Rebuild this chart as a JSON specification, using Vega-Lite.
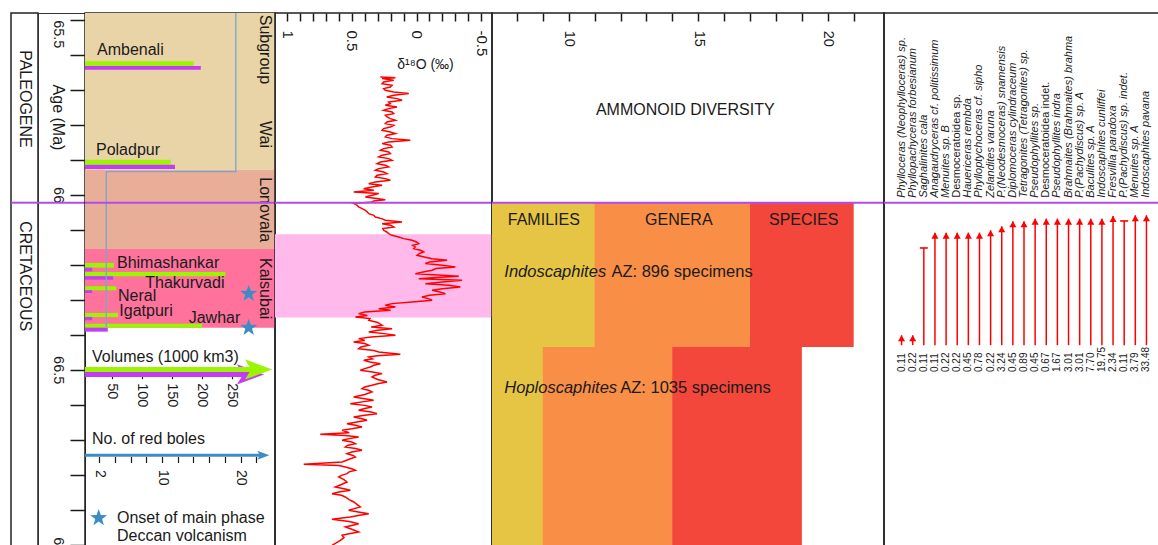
{
"$schema":"https://vega.github.io/schema/vega-lite/v6.json",
"background":"white",
"padding":{"left":9,"top":11,"right":0,"bottom":0},
"spacing":0,
"bounds":"flush",
"config":{"font":"Liberation Sans","view":{"stroke":"#222","strokeWidth":1.5},
 "axis":{"labelColor":"#1a1a1a","tickColor":"#1a1a1a","titleColor":"#1a1a1a","labelFont":"Liberation Sans","titleFont":"Liberation Sans","zindex":1,"grid":false,"domain":false,"labelFlush":false,"labelOverlap":false,"labelBound":false}},
"datasets":{
 "kpg":[{"event":"K-Pg boundary","age":66.0229}],
 "species":[
    {"name":"Phylloceras (Neophylloceras) sp.","pct":0.11,"top":66.4017,"cont":true},
    {"name":"Phyllopachyceras forbesianum","pct":0.22,"top":66.4017,"cont":true},
    {"name":"Saghalinites cala","pct":0.11,"top":66.1523,"cont":false},
    {"name":"Anagaudryceras cf. politissimum","pct":0.11,"top":66.1086,"cont":true},
    {"name":"Menuites sp. B","pct":0.22,"top":66.1086,"cont":true},
    {"name":"Desmoceratoidea sp.","pct":0.22,"top":66.1086,"cont":true},
    {"name":"Hauericeras rembda","pct":0.45,"top":66.1086,"cont":true},
    {"name":"Phylloptychoceras cf. sipho","pct":0.78,"top":66.1086,"cont":true},
    {"name":"Zelandites varuna","pct":0.22,"top":66.1017,"cont":true},
    {"name":"P.(Neodesmoceras) snamensis","pct":3.24,"top":66.0903,"cont":true},
    {"name":"Diplomoceras cylindraceum","pct":0.45,"top":66.0760,"cont":true},
    {"name":"Tetragonites (Tetragonites) sp.","pct":0.89,"top":66.0760,"cont":true},
    {"name":"Pseudophyllites sp.","pct":0.45,"top":66.0686,"cont":true},
    {"name":"Desmoceratoidea indet.","pct":0.67,"top":66.0686,"cont":true},
    {"name":"Pseudophyllites indra","pct":1.67,"top":66.0686,"cont":true},
    {"name":"Brahmaites (Brahmaites) brahma","pct":3.01,"top":66.0686,"cont":true},
    {"name":"P.(Pachydiscus) sp. A","pct":3.01,"top":66.0686,"cont":true},
    {"name":"Baculites sp. A","pct":7.70,"top":66.0686,"cont":true},
    {"name":"Indoscaphites cunliffei","pct":19.75,"top":66.0686,"cont":true},
    {"name":"Fresvillia paradoxa","pct":2.34,"top":66.0609,"cont":true},
    {"name":"P.(Pachydiscus) sp. indet.","pct":0.11,"top":66.0751,"cont":false},
    {"name":"Menuites sp. A","pct":3.79,"top":66.0589,"cont":true},
    {"name":"Indoscaphites pavana","pct":33.48,"top":66.0589,"cont":true}]},
"hconcat":[
{"width":27,"height":534,
 "layer":[
  {"data":{"name":"kpg"},"mark":{"type":"rule","color":"#B24BE8","strokeWidth":2},"encoding":{"y":{"field":"age","type":"quantitative","scale":{"domain":[65.481,67.0066],"reverse":true,"nice":false,"zero":false},"axis":null}}},
  {"data":{"values":[{"period":"PALEOGENE","age":65.7266},{"period":"CRETACEOUS","age":66.2329}]},"mark":{"type":"text","angle":90,"align":"center","baseline":"middle","fontSize":16,"color":"#1a1a1a"},"encoding":{"y":{"field":"age","type":"quantitative","scale":{"domain":[65.481,67.0066],"reverse":true,"nice":false,"zero":false},"axis":null},"text":{"field":"period","type":"nominal"}}}
 ]},
{"width":47,"height":534,"view":{"stroke":"#333","strokeWidth":1},
 "data":{"name":"kpg"},
 "mark":{"type":"rule","color":"#B24BE8","strokeWidth":2},
 "encoding":{"y":{"field":"age","type":"quantitative","scale":{"domain":[65.481,67.0066],"reverse":true,"nice":false,"zero":false},
  "axis":{"orient":"right","values":[65.5,65.6,65.7,65.8,65.9,66,66.1,66.2,66.3,66.4,66.5,66.6,66.7,66.8,66.9,67],"format":".1~f","labelExpr":"round(datum.value*10) % 5 == 0 ? datum.label : ''","tickSize":-15,"tickWidth":1.5,"labelAngle":90,"labelAlign":{"condition":{"test":"datum.value == 65.5","value":"left"},"value":"center"},"labelBaseline":"middle","labelPadding":-13,"labelFontSize":14.5,"title":"Age (Ma)","titleAngle":90,"titleX":-28,"titleY":104,"titleAlign":"center","titleBaseline":"middle","titleFontSize":16,"titleFontWeight":"normal"}}}},
{"width":190,"height":534,
 "resolve":{"scale":{"x":"independent","color":"independent"},"axis":{"x":"independent"}},
 "layer":[
  {"data":{"values":[{"unit":"Wai","top":65.481,"bottom":65.9286},{"unit":"Lonovala","top":65.9286,"bottom":66.1552},{"unit":"Kalsubai","top":66.1552,"bottom":66.38}]},
   "mark":{"type":"rect"},
   "encoding":{"y":{"field":"top","type":"quantitative","scale":{"domain":[65.481,67.0066],"reverse":true,"nice":false,"zero":false},"axis":null},"y2":{"field":"bottom"},
    "color":{"field":"unit","type":"nominal","scale":{"domain":["Wai","Lonovala","Kalsubai"],"range":["#E9D4A7","#E8AE98","#FF729C"]},"legend":null}}},
  {"data":{"values":[
    {"formation":"Ambenali","source":"A","top":65.6189,"bottom":65.6323,"vol":186},
    {"formation":"Ambenali","source":"B","top":65.6323,"bottom":65.6429,"vol":198},
    {"formation":"Poladpur","source":"A","top":65.9000,"bottom":65.9143,"vol":148},
    {"formation":"Poladpur","source":"B","top":65.9143,"bottom":65.9266,"vol":155},
    {"formation":"Bhimashankar","source":"A","top":66.1951,"bottom":66.2086,"vol":53},
    {"formation":"Bhimashankar","source":"B","top":66.2086,"bottom":66.2189,"vol":17},
    {"formation":"Thakurvadi","source":"A","top":66.2209,"bottom":66.2331,"vol":239},
    {"formation":"Thakurvadi","source":"B","top":66.2331,"bottom":66.2429,"vol":52},
    {"formation":"Neral","source":"A","top":66.2617,"bottom":66.2731,"vol":57},
    {"formation":"Neral","source":"B","top":66.2731,"bottom":66.2809,"vol":17},
    {"formation":"Igatpuri","source":"A","top":66.3380,"bottom":66.3494,"vol":60},
    {"formation":"Igatpuri","source":"B","top":66.3494,"bottom":66.3589,"vol":17},
    {"formation":"Jawhar","source":"A","top":66.3686,"bottom":66.3800,"vol":200},
    {"formation":"Jawhar","source":"B","top":66.3800,"bottom":66.3914,"vol":43}]},
   "mark":{"type":"rect","clip":true},
   "encoding":{"x":{"field":"vol","type":"quantitative","scale":{"domain":[5,321.67],"nice":false,"zero":false},"axis":null},"x2":{"datum":0},
    "y":{"field":"top","type":"quantitative","scale":{"domain":[65.481,67.0066],"reverse":true,"nice":false,"zero":false},"axis":null},"y2":{"field":"bottom"},
    "color":{"field":"source","type":"nominal","scale":{"domain":["A","B"],"range":["#9BF500","#C23CF5"]},"legend":null}}},
  {"data":{"values":[{"i":0,"n":19.4,"age":65.45},{"i":1,"n":19.4,"age":65.934},{"i":2,"n":2.9,"age":65.934},{"i":3,"n":2.9,"age":66.378}]},
   "mark":{"type":"line","color":"#78A8C8","strokeWidth":1.3,"clip":true},
   "encoding":{"x":{"field":"n","type":"quantitative","scale":{"domain":[0.19,24.39],"nice":false,"zero":false},"axis":null},
    "y":{"field":"age","type":"quantitative","scale":{"domain":[65.481,67.0066],"reverse":true,"nice":false,"zero":false},"axis":null},
    "order":{"field":"i","type":"quantitative"}}},
  {"data":{"values":[{"source":"B","age":66.5137,"v0":0,"v1":275}]},
   "mark":{"type":"rule","color":"#C23CF5","strokeWidth":5,"clip":true},
   "encoding":{"x":{"field":"v0","type":"quantitative","scale":{"domain":[5,321.67],"nice":false,"zero":false},
     "axis":{"orient":"bottom","offset":-172.3,"values":[50,100,150,200,250],"tickSize":4,"tickWidth":1.2,"labelAngle":90,"labelAlign":"left","labelBaseline":"middle","labelPadding":4,"labelFontSize":14.5,"title":null}},
    "x2":{"field":"v1"},
    "y":{"field":"age","type":"quantitative","scale":{"domain":[65.481,67.0066],"reverse":true,"nice":false,"zero":false},"axis":null}}},
  {"data":{"values":[{"source":"B","age":66.5137,"head":280.8}]},
   "mark":{"type":"point","shape":"M -1 -0.75 L 1 0 L -1 0.75 L -0.55 0 Z","filled":true,"size":729,"color":"#C23CF5","opacity":1},
   "encoding":{"x":{"field":"head","type":"quantitative","scale":{"domain":[5,321.67],"nice":false,"zero":false},"axis":null},
    "y":{"field":"age","type":"quantitative","scale":{"domain":[65.481,67.0066],"reverse":true,"nice":false,"zero":false},"axis":null}}},
  {"data":{"values":[{"source":"A","age":66.4994,"v0":0,"v1":285}]},
   "mark":{"type":"rule","color":"#9BF500","strokeWidth":5,"clip":true},
   "encoding":{"x":{"field":"v0","type":"quantitative","scale":{"domain":[5,321.67],"nice":false,"zero":false},"axis":null},
    "x2":{"field":"v1"},
    "y":{"field":"age","type":"quantitative","scale":{"domain":[65.481,67.0066],"reverse":true,"nice":false,"zero":false},"axis":null}}},
  {"data":{"values":[{"source":"A","age":66.4994,"head":294.2}]},
   "mark":{"type":"point","shape":"M -1 -0.75 L 1 0 L -1 0.75 L -0.55 0 Z","filled":true,"size":729,"color":"#9BF500","opacity":1},
   "encoding":{"x":{"field":"head","type":"quantitative","scale":{"domain":[5,321.67],"nice":false,"zero":false},"axis":null},
    "y":{"field":"age","type":"quantitative","scale":{"domain":[65.481,67.0066],"reverse":true,"nice":false,"zero":false},"axis":null}}},
  {"data":{"values":[{"age":66.7446,"n0":0,"n1":22.5}]},
   "mark":{"type":"rule","color":"#3C8DC6","strokeWidth":3,"clip":true},
   "encoding":{"x":{"field":"n0","type":"quantitative","scale":{"domain":[0.19,24.39],"nice":false,"zero":false},
     "axis":{"orient":"bottom","offset":-90.5,"values":[2,4,6,8,10,12,14,16,18,20,22],"labelExpr":"indexof([2,10,20], datum.value) >= 0 ? datum.label : ''","tickSize":6,"tickWidth":1.2,"labelAngle":90,"labelAlign":"left","labelBaseline":"middle","labelPadding":7,"labelFontSize":14,"title":null}},
    "x2":{"field":"n1"},
    "y":{"field":"age","type":"quantitative","scale":{"domain":[65.481,67.0066],"reverse":true,"nice":false,"zero":false},"axis":null}}},
  {"data":{"values":[{"age":66.7446,"head":22.9}]},
   "mark":{"type":"point","shape":"M -1 -0.75 L 1 0 L -1 0.75 L -0.55 0 Z","filled":true,"size":144,"color":"#3C8DC6","opacity":1},
   "encoding":{"x":{"field":"head","type":"quantitative","scale":{"domain":[0.19,24.39],"nice":false,"zero":false},"axis":null},
    "y":{"field":"age","type":"quantitative","scale":{"domain":[65.481,67.0066],"reverse":true,"nice":false,"zero":false},"axis":null}}},
  {"data":{"values":[
    {"text":"Ambenali","vx":25,"age":65.6020},
    {"text":"Poladpur","vx":23.3,"age":65.8877},
    {"text":"Bhimashankar","vx":58.3,"age":66.2106},
    {"text":"Thakurvadi","vx":105.5,"age":66.2677},
    {"text":"Neral","vx":60,"age":66.3037},
    {"text":"Igatpuri","vx":62.2,"age":66.3466},
    {"text":"Jawhar","vx":177.8,"age":66.3657},
    {"text":"Volumes (1000 km3)","vx":16.7,"age":66.478},
    {"text":"No. of red boles","vx":16.7,"age":66.7134},
    {"text":"Onset of main phase","vx":58.3,"age":66.9371},
    {"text":"Deccan volcanism","vx":58.3,"age":66.9894}]},
   "mark":{"type":"text","align":"left","baseline":"alphabetic","fontSize":16,"color":"#1a1a1a"},
   "encoding":{"x":{"field":"vx","type":"quantitative","scale":{"domain":[5,321.67],"nice":false,"zero":false},"axis":null},
    "y":{"field":"age","type":"quantitative","scale":{"domain":[65.481,67.0066],"reverse":true,"nice":false,"zero":false},"axis":null},
    "text":{"field":"text","type":"nominal"}}},
  {"data":{"values":[{"text":"Subgroup","vx":305,"age":65.5851},{"text":"Wai","vx":305,"age":65.828},{"text":"Lonovala","vx":305,"age":66.0432},{"text":"Kalsubai","vx":305,"age":66.2686}]},
   "mark":{"type":"text","angle":90,"align":"center","baseline":"middle","fontSize":16,"color":"#1a1a1a"},
   "encoding":{"x":{"field":"vx","type":"quantitative","scale":{"domain":[5,321.67],"nice":false,"zero":false},"axis":null},
    "y":{"field":"age","type":"quantitative","scale":{"domain":[65.481,67.0066],"reverse":true,"nice":false,"zero":false},"axis":null},
    "text":{"field":"text","type":"nominal"}}},
  {"data":{"values":[{"vx":277.8,"age":66.2829},{"vx":277.8,"age":66.38},{"vx":27.8,"age":66.9237}]},
   "mark":{"type":"point","shape":"M 0 -1 L 0.235 -0.324 L 0.951 -0.309 L 0.38 0.124 L 0.588 0.809 L 0 0.4 L -0.588 0.809 L -0.38 0.124 L -0.951 -0.309 L -0.235 -0.324 Z","filled":true,"size":320,"color":"#3C8DC6","opacity":1},
   "encoding":{"x":{"field":"vx","type":"quantitative","scale":{"domain":[5,321.67],"nice":false,"zero":false},"axis":null},
    "y":{"field":"age","type":"quantitative","scale":{"domain":[65.481,67.0066],"reverse":true,"nice":false,"zero":false},"axis":null}}},
  {"data":{"name":"kpg"},"mark":{"type":"rule","color":"#B24BE8","strokeWidth":2},"encoding":{"y":{"field":"age","type":"quantitative","scale":{"domain":[65.481,67.0066],"reverse":true,"nice":false,"zero":false},"axis":null}}}
 ]},
{"width":217,"height":534,
 "layer":[
  {"data":{"values":[{"top":66.1131,"bottom":66.3509}]},"mark":{"type":"rect","color":"#FFBAEB"},
   "encoding":{"y":{"field":"top","type":"quantitative","scale":{"domain":[65.481,67.0066],"reverse":true,"nice":false,"zero":false},"axis":null},"y2":{"field":"bottom"}}},
  {"data":{"values":[
{"age":65.6637,"d":0.279},{"age":65.6660,"d":0.163},{"age":65.6685,"d":0.266},{"age":65.6732,"d":0.176},{"age":65.6780,"d":0.254},{"age":65.6828,"d":0.266},{"age":65.6875,"d":0.189},{"age":65.6923,"d":0.202},{"age":65.6970,"d":0.254},{"age":65.7018,"d":0.241},{"age":65.7066,"d":0.176},{"age":65.7113,"d":0.060},{"age":65.7161,"d":0.176},{"age":65.7208,"d":0.230},{"age":65.7256,"d":0.150},{"age":65.7304,"d":0.112},{"age":65.7351,"d":0.215},{"age":65.7399,"d":0.202},{"age":65.7447,"d":0.241},{"age":65.7494,"d":0.151},{"age":65.7542,"d":0.215},{"age":65.7590,"d":0.254},{"age":65.7637,"d":0.189},{"age":65.7685,"d":0.176},{"age":65.7733,"d":0.241},{"age":65.7780,"d":0.228},{"age":65.7828,"d":0.202},{"age":65.7875,"d":0.163},{"age":65.7923,"d":0.228},{"age":65.7971,"d":0.241},{"age":65.8018,"d":0.176},{"age":65.8066,"d":0.202},{"age":65.8113,"d":0.254},{"age":65.8161,"d":0.266},{"age":65.8209,"d":0.202},{"age":65.8256,"d":0.163},{"age":65.8304,"d":0.228},{"age":65.8351,"d":0.241},{"age":65.8399,"d":0.189},{"age":65.8447,"d":0.048},{"age":65.8494,"d":0.215},{"age":65.8542,"d":0.266},{"age":65.8590,"d":0.202},{"age":65.8637,"d":0.189},{"age":65.8685,"d":0.254},{"age":65.8732,"d":0.279},{"age":65.8780,"d":0.215},{"age":65.8828,"d":0.202},{"age":65.8875,"d":0.266},{"age":65.8923,"d":0.292},{"age":65.8970,"d":0.215},{"age":65.9018,"d":0.189},{"age":65.9066,"d":0.279},{"age":65.9113,"d":0.305},{"age":65.9161,"d":0.241},{"age":65.9209,"d":0.215},{"age":65.9256,"d":0.292},{"age":65.9304,"d":0.318},{"age":65.9352,"d":0.254},{"age":65.9399,"d":0.228},{"age":65.9447,"d":0.305},{"age":65.9494,"d":0.318},{"age":65.9542,"d":0.241},{"age":65.9590,"d":0.202},{"age":65.9637,"d":0.318},{"age":65.9685,"d":0.369},{"age":65.9732,"d":0.266},{"age":65.9780,"d":0.344},{"age":65.9828,"d":0.408},{"age":65.9875,"d":0.330},{"age":65.9923,"d":0.485},{"age":65.9970,"d":0.292},{"age":66.0018,"d":0.344},{"age":66.0066,"d":0.395},{"age":66.0110,"d":0.310},{"age":66.0142,"d":0.241},{"age":66.0180,"d":0.330},{"age":66.0209,"d":0.344},{"age":66.0256,"d":0.485},{"age":66.0300,"d":0.460},{"age":66.0351,"d":0.447},{"age":66.0400,"d":0.420},{"age":66.0447,"d":0.395},{"age":66.0495,"d":0.380},{"age":66.0542,"d":0.369},{"age":66.0590,"d":0.330},{"age":66.0637,"d":0.318},{"age":66.0685,"d":0.270},{"age":66.0732,"d":0.241},{"age":66.0780,"d":0.112},{"age":66.0828,"d":0.266},{"age":66.0875,"d":0.200},{"age":66.0923,"d":0.176},{"age":66.0970,"d":0.260},{"age":66.1018,"d":0.254},{"age":66.1066,"d":0.230},{"age":66.1113,"d":0.215},{"age":66.1161,"d":0.190},{"age":66.1209,"d":0.138},{"age":66.1256,"d":0.100},{"age":66.1304,"d":0.035},{"age":66.1352,"d":0.000},{"age":66.1399,"d":-0.017},{"age":66.1447,"d":0.030},{"age":66.1494,"d":0.010},{"age":66.1542,"d":0.022},{"age":66.1590,"d":-0.030},{"age":66.1637,"d":-0.055},{"age":66.1685,"d":-0.020},{"age":66.1732,"d":-0.004},{"age":66.1780,"d":-0.060},{"age":66.1828,"d":-0.120},{"age":66.1875,"d":-0.236},{"age":66.1923,"d":-0.100},{"age":66.1970,"d":-0.068},{"age":66.2018,"d":-0.200},{"age":66.2066,"d":-0.300},{"age":66.2110,"d":-0.150},{"age":66.2161,"d":-0.120},{"age":66.2210,"d":-0.050},{"age":66.2256,"d":0.009},{"age":66.2300,"d":-0.200},{"age":66.2332,"d":-0.326},{"age":66.2370,"d":-0.150},{"age":66.2399,"d":-0.017},{"age":66.2447,"d":-0.351},{"age":66.2495,"d":-0.200},{"age":66.2542,"d":-0.068},{"age":66.2590,"d":-0.250},{"age":66.2637,"d":-0.338},{"age":66.2685,"d":-0.200},{"age":66.2732,"d":-0.120},{"age":66.2780,"d":-0.180},{"age":66.2828,"d":-0.223},{"age":66.2875,"d":-0.100},{"age":66.2923,"d":-0.042},{"age":66.2970,"d":-0.090},{"age":66.3018,"d":-0.120},{"age":66.3066,"d":0.035},{"age":66.3113,"d":0.189},{"age":66.3161,"d":0.241},
{"age":66.3210,"d":0.163},{"age":66.3256,"d":0.292},{"age":66.3300,"d":0.200},{"age":66.3350,"d":0.400},{"age":66.3399,"d":0.447},{"age":66.3450,"d":0.380},{"age":66.3494,"d":0.472},{"age":66.3540,"d":0.360},{"age":66.3590,"d":0.369},{"age":66.3650,"d":0.300},{"age":66.3733,"d":0.266},{"age":66.3780,"d":0.350},{"age":66.3828,"d":0.189},{"age":66.3875,"d":0.300},{"age":66.3923,"d":0.369},{"age":66.3970,"d":0.250},{"age":66.4018,"d":0.163},{"age":66.4065,"d":0.350},{"age":66.4113,"d":0.447},{"age":66.4160,"d":0.400},{"age":66.4209,"d":0.485},{"age":66.4255,"d":0.400},{"age":66.4304,"d":0.369},{"age":66.4350,"d":0.430},{"age":66.4399,"d":0.447},{"age":66.4450,"d":0.330},{"age":66.4494,"d":0.292},{"age":66.4561,"d":0.125},{"age":66.4600,"d":0.300},{"age":66.4637,"d":0.369},{"age":66.4690,"d":0.340},{"age":66.4733,"d":0.408},{"age":66.4780,"d":0.360},{"age":66.4828,"d":0.279},{"age":66.4875,"d":0.330},{"age":66.4923,"d":0.357},{"age":66.4970,"d":0.400},{"age":66.5018,"d":0.434},{"age":66.5065,"d":0.340},{"age":66.5113,"d":0.266},{"age":66.5160,"d":0.320},{"age":66.5209,"d":0.344},{"age":66.5280,"d":0.300},{"age":66.5351,"d":0.228},{"age":66.5400,"d":0.300},{"age":66.5447,"d":0.344},{"age":66.5495,"d":0.400},{"age":66.5542,"d":0.421},{"age":66.5590,"d":0.370},{"age":66.5637,"d":0.344},{"age":66.5710,"d":0.400},{"age":66.5780,"d":0.485},{"age":66.5830,"d":0.400},{"age":66.5875,"d":0.331},{"age":66.5920,"d":0.420},{"age":66.5971,"d":0.511},{"age":66.6020,"d":0.400},{"age":66.6066,"d":0.344},{"age":66.6110,"d":0.400},{"age":66.6161,"d":0.447},{"age":66.6210,"d":0.350},{"age":66.6256,"d":0.305},{"age":66.6300,"d":0.400},{"age":66.6351,"d":0.485},{"age":66.6400,"d":0.420},{"age":66.6447,"d":0.382},{"age":66.6495,"d":0.460},{"age":66.6542,"d":0.537},{"age":66.6590,"d":0.470},{"age":66.6637,"d":0.421},{"age":66.6690,"d":0.500},{"age":66.6733,"d":0.575},{"age":66.6800,"d":0.520},{"age":66.6847,"d":0.743},{"age":66.6880,"d":0.550},{"age":66.6923,"d":0.447},{"age":66.6970,"d":0.520},{"age":66.7018,"d":0.575},{"age":66.7065,"d":0.500},{"age":66.7113,"d":0.472},{"age":66.7160,"d":0.530},{"age":66.7209,"d":0.550},{"age":66.7255,"d":0.470},{"age":66.7304,"d":0.421},{"age":66.7350,"d":0.500},{"age":66.7399,"d":0.537},{"age":66.7450,"d":0.490},{"age":66.7494,"d":0.472},{"age":66.7560,"d":0.520},{"age":66.7637,"d":0.575},{"age":66.7704,"d":0.871},{"age":66.7740,"d":0.600},{"age":66.7780,"d":0.550},{"age":66.7830,"d":0.500},{"age":66.7875,"d":0.472},{"age":66.7920,"d":0.520},{"age":66.7971,"d":0.537},{"age":66.8020,"d":0.580},{"age":66.8066,"d":0.601},{"age":66.8140,"d":0.560},{"age":66.8209,"d":0.537},{"age":66.8280,"d":0.580},{"age":66.8351,"d":0.627},{"age":66.8400,"d":0.560},{"age":66.8447,"d":0.511},{"age":66.8495,"d":0.600},{"age":66.8542,"d":0.653},{"age":66.8590,"d":0.580},{"age":66.8637,"d":0.550},{"age":66.8710,"d":0.520},{"age":66.8780,"d":0.485},{"age":66.8850,"d":0.460},{"age":66.8923,"d":0.434},{"age":66.8970,"d":0.480},{"age":66.9018,"d":0.524},{"age":66.9065,"d":0.450},{"age":66.9113,"d":0.369},{"age":66.9160,"d":0.440},{"age":66.9209,"d":0.511},{"age":66.9275,"d":0.653},{"age":66.9340,"d":0.520},{"age":66.9399,"d":0.447},{"age":66.9450,"d":0.500},{"age":66.9494,"d":0.550},{"age":66.9560,"d":0.500},{"age":66.9637,"d":0.447},{"age":66.9690,"d":0.520},{"age":66.9733,"d":0.575},{"age":66.9800,"d":0.560},{"age":66.9875,"d":0.588},{"age":66.9950,"d":0.620},{"age":67.0018,"d":0.653}]},
   "mark":{"type":"line","color":"#FF0000","strokeWidth":1.5,"clip":true},
   "encoding":{"x":{"field":"d","type":"quantitative","scale":{"domain":[-0.5826,1.0927],"reverse":true,"nice":false,"zero":false},
     "axis":{"orient":"top","values":[-0.5,-0.4,-0.3,-0.2,-0.1,0,0.1,0.2,0.3,0.4,0.5,0.6,0.7,0.8,0.9,1],"format":".1~f","labelExpr":"round(datum.value*10) % 5 == 0 ? replace(datum.label, '\u2212', '-') : ''","tickSize":-8,"tickWidth":1.5,"labelAngle":90,"labelAlign":"left","labelBaseline":"middle","labelPadding":-9,"labelFontSize":15,"title":"δ¹⁸O (‰)","titleX":150,"titleY":51,"titleAngle":0,"titleAlign":"center","titleBaseline":"middle","titleFontSize":14,"titleFontWeight":"normal"}},
    "y":{"field":"age","type":"quantitative","scale":{"domain":[65.481,67.0066],"reverse":true,"nice":false,"zero":false},"axis":null},
    "order":{"field":"age","type":"quantitative"}}},
  {"data":{"name":"kpg"},"mark":{"type":"rule","color":"#B24BE8","strokeWidth":2},"encoding":{"y":{"field":"age","type":"quantitative","scale":{"domain":[65.481,67.0066],"reverse":true,"nice":false,"zero":false},"axis":null}}}
 ]},
{"width":392,"height":534,
 "layer":[
  {"data":{"values":[
    {"az":"Indoscaphites","level":"SPECIES","n":21,"top":66.0229,"bottom":66.4351},
    {"az":"Indoscaphites","level":"GENERA","n":17,"top":66.0229,"bottom":66.4351},
    {"az":"Indoscaphites","level":"FAMILIES","n":11,"top":66.0229,"bottom":66.4351},
    {"az":"Hoploscaphites","level":"SPECIES","n":19,"top":66.4351,"bottom":67.2},
    {"az":"Hoploscaphites","level":"GENERA","n":14,"top":66.4351,"bottom":67.2},
    {"az":"Hoploscaphites","level":"FAMILIES","n":9,"top":66.4351,"bottom":67.2}]},
   "mark":{"type":"rect","clip":true},
   "encoding":{"x":{"field":"n","type":"quantitative","scale":{"domain":[7.04,22.17],"nice":false,"zero":false},
     "axis":{"orient":"top","values":[8,9,10,11,12,13,14,15,16,17,18,19,20,21],"labelExpr":"datum.value % 5 == 0 ? datum.label : ''","tickSize":-8,"tickWidth":1.5,"labelAngle":90,"labelAlign":"left","labelBaseline":"middle","labelPadding":-9.3,"labelFontSize":14.5,"title":null}},
    "x2":{"datum":0},
    "y":{"field":"top","type":"quantitative","scale":{"domain":[65.481,67.0066],"reverse":true,"nice":false,"zero":false},"axis":null},"y2":{"field":"bottom"},
    "color":{"field":"level","type":"nominal","scale":{"domain":["FAMILIES","GENERA","SPECIES"],"range":["#E6C545","#F98E46","#F2473A"]},"legend":null}}},
  {"data":{"values":[{"t":"FAMILIES","x":9.04,"age":66.0874},{"t":"GENERA","x":14.25,"age":66.0874},{"t":"SPECIES","x":19.07,"age":66.0874},{"t":"AMMONOID DIVERSITY","x":14.5,"age":65.7714}]},
   "mark":{"type":"text","align":"center","baseline":"alphabetic","fontSize":16,"color":"#1a1a1a"},
   "encoding":{"x":{"field":"x","type":"quantitative","scale":{"domain":[7.04,22.17],"nice":false,"zero":false},
     "axis":{"orient":"top","values":[8,9,10,11,12,13,14,15,16,17,18,19,20,21],"labelExpr":"datum.value % 5 == 0 ? datum.label : ''","tickSize":-8,"tickWidth":1.5,"labelAngle":90,"labelAlign":"left","labelBaseline":"middle","labelPadding":-9.3,"labelFontSize":14.5,"title":null}},
    "y":{"field":"age","type":"quantitative","scale":{"domain":[65.481,67.0066],"reverse":true,"nice":false,"zero":false},"axis":null},"text":{"field":"t","type":"nominal"}}},
  {"data":{"values":[{"t":"Indoscaphites","x":7.515,"age":66.236},{"t":"Hoploscaphites","x":7.515,"age":66.566}]},
   "mark":{"type":"text","align":"left","baseline":"alphabetic","fontSize":16.5,"fontStyle":"italic","color":"#1a1a1a"},
   "encoding":{"x":{"field":"x","type":"quantitative","scale":{"domain":[7.04,22.17],"nice":false,"zero":false},
     "axis":{"orient":"top","values":[8,9,10,11,12,13,14,15,16,17,18,19,20,21],"labelExpr":"datum.value % 5 == 0 ? datum.label : ''","tickSize":-8,"tickWidth":1.5,"labelAngle":90,"labelAlign":"left","labelBaseline":"middle","labelPadding":-9.3,"labelFontSize":14.5,"title":null}},
    "y":{"field":"age","type":"quantitative","scale":{"domain":[65.481,67.0066],"reverse":true,"nice":false,"zero":false},"axis":null},"text":{"field":"t","type":"nominal"}}},
  {"data":{"values":[{"t":"AZ: 896 specimens","x":11.65,"age":66.236},{"t":"AZ: 1035 specimens","x":11.99,"age":66.566}]},
   "mark":{"type":"text","align":"left","baseline":"alphabetic","fontSize":16.5,"color":"#1a1a1a"},
   "encoding":{"x":{"field":"x","type":"quantitative","scale":{"domain":[7.04,22.17],"nice":false,"zero":false},
     "axis":{"orient":"top","values":[8,9,10,11,12,13,14,15,16,17,18,19,20,21],"labelExpr":"datum.value % 5 == 0 ? datum.label : ''","tickSize":-8,"tickWidth":1.5,"labelAngle":90,"labelAlign":"left","labelBaseline":"middle","labelPadding":-9.3,"labelFontSize":14.5,"title":null}},
    "y":{"field":"age","type":"quantitative","scale":{"domain":[65.481,67.0066],"reverse":true,"nice":false,"zero":false},"axis":null},"text":{"field":"t","type":"nominal"}}},
  {"data":{"name":"kpg"},"mark":{"type":"rule","color":"#B24BE8","strokeWidth":2},"encoding":{"y":{"field":"age","type":"quantitative","scale":{"domain":[65.481,67.0066],"reverse":true,"nice":false,"zero":false},"axis":null}}}
 ]},
{"width":276,"height":534,
 "layer":[
  {"data":{"name":"kpg"},"mark":{"type":"rule","color":"#B24BE8","strokeWidth":2},"encoding":{"y":{"field":"age","type":"quantitative","scale":{"domain":[65.481,67.0066],"reverse":true,"nice":false,"zero":false},"axis":null}}},
  {"data":{"name":"species"},
   "mark":{"type":"rule","color":"#FF0000","strokeWidth":1.5},
   "encoding":{"x":{"field":"name","type":"nominal","sort":null,"axis":null,"scale":{"type":"point","range":[12,268],"domain":["Phylloceras (Neophylloceras) sp.","Phyllopachyceras forbesianum","Saghalinites cala","Anagaudryceras cf. politissimum","Menuites sp. B","Desmoceratoidea sp.","Hauericeras rembda","Phylloptychoceras cf. sipho","Zelandites varuna","P.(Neodesmoceras) snamensis","Diplomoceras cylindraceum","Tetragonites (Tetragonites) sp.","Pseudophyllites sp.","Desmoceratoidea indet.","Pseudophyllites indra","Brahmaites (Brahmaites) brahma","P.(Pachydiscus) sp. A","Baculites sp. A","Indoscaphites cunliffei","Fresvillia paradoxa","P.(Pachydiscus) sp. indet.","Menuites sp. A","Indoscaphites pavana"]}},
    "y":{"field":"top","type":"quantitative","scale":{"domain":[65.481,67.0066],"reverse":true,"nice":false,"zero":false},"axis":null},"y2":{"datum":66.43}}},
  {"data":{"name":"species"},"transform":[{"filter":"datum.cont"}],
   "mark":{"type":"point","shape":"triangle-up","filled":true,"size":50,"color":"#FF0000","opacity":1,"yOffset":3},
   "encoding":{"x":{"field":"name","type":"nominal","sort":null,"axis":null,"scale":{"type":"point","range":[12,268],"domain":["Phylloceras (Neophylloceras) sp.","Phyllopachyceras forbesianum","Saghalinites cala","Anagaudryceras cf. politissimum","Menuites sp. B","Desmoceratoidea sp.","Hauericeras rembda","Phylloptychoceras cf. sipho","Zelandites varuna","P.(Neodesmoceras) snamensis","Diplomoceras cylindraceum","Tetragonites (Tetragonites) sp.","Pseudophyllites sp.","Desmoceratoidea indet.","Pseudophyllites indra","Brahmaites (Brahmaites) brahma","P.(Pachydiscus) sp. A","Baculites sp. A","Indoscaphites cunliffei","Fresvillia paradoxa","P.(Pachydiscus) sp. indet.","Menuites sp. A","Indoscaphites pavana"]}},
    "y":{"field":"top","type":"quantitative","scale":{"domain":[65.481,67.0066],"reverse":true,"nice":false,"zero":false},"axis":null}}},
  {"data":{"name":"species"},"transform":[{"filter":"!datum.cont"}],
   "mark":{"type":"point","shape":"M -1 -0.2 L 1 -0.2 L 1 0.2 L -1 0.2 Z","filled":true,"size":64,"color":"#FF0000","opacity":1},
   "encoding":{"x":{"field":"name","type":"nominal","sort":null,"axis":null,"scale":{"type":"point","range":[12,268],"domain":["Phylloceras (Neophylloceras) sp.","Phyllopachyceras forbesianum","Saghalinites cala","Anagaudryceras cf. politissimum","Menuites sp. B","Desmoceratoidea sp.","Hauericeras rembda","Phylloptychoceras cf. sipho","Zelandites varuna","P.(Neodesmoceras) snamensis","Diplomoceras cylindraceum","Tetragonites (Tetragonites) sp.","Pseudophyllites sp.","Desmoceratoidea indet.","Pseudophyllites indra","Brahmaites (Brahmaites) brahma","P.(Pachydiscus) sp. A","Baculites sp. A","Indoscaphites cunliffei","Fresvillia paradoxa","P.(Pachydiscus) sp. indet.","Menuites sp. A","Indoscaphites pavana"]}},
    "y":{"field":"top","type":"quantitative","scale":{"domain":[65.481,67.0066],"reverse":true,"nice":false,"zero":false},"axis":null}}},
  {"data":{"name":"species"},"transform":[{"filter":"indexof(datum.name, 'Desmoceratoidea') < 0"}],
   "mark":{"type":"text","angle":270,"align":"left","baseline":"middle","fontSize":11,"fontStyle":"italic","color":"#222"},
   "encoding":{"x":{"field":"name","type":"nominal","sort":null,"axis":null,"scale":{"type":"point","range":[12,268],"domain":["Phylloceras (Neophylloceras) sp.","Phyllopachyceras forbesianum","Saghalinites cala","Anagaudryceras cf. politissimum","Menuites sp. B","Desmoceratoidea sp.","Hauericeras rembda","Phylloptychoceras cf. sipho","Zelandites varuna","P.(Neodesmoceras) snamensis","Diplomoceras cylindraceum","Tetragonites (Tetragonites) sp.","Pseudophyllites sp.","Desmoceratoidea indet.","Pseudophyllites indra","Brahmaites (Brahmaites) brahma","P.(Pachydiscus) sp. A","Baculites sp. A","Indoscaphites cunliffei","Fresvillia paradoxa","P.(Pachydiscus) sp. indet.","Menuites sp. A","Indoscaphites pavana"]}},
    "y":{"datum":66.009,"type":"quantitative","scale":{"domain":[65.481,67.0066],"reverse":true,"nice":false,"zero":false},"axis":null},"text":{"field":"name","type":"nominal"}}},
  {"data":{"name":"species"},"transform":[{"filter":"indexof(datum.name, 'Desmoceratoidea') >= 0"}],
   "mark":{"type":"text","angle":270,"align":"left","baseline":"middle","fontSize":11,"color":"#222"},
   "encoding":{"x":{"field":"name","type":"nominal","sort":null,"axis":null,"scale":{"type":"point","range":[12,268],"domain":["Phylloceras (Neophylloceras) sp.","Phyllopachyceras forbesianum","Saghalinites cala","Anagaudryceras cf. politissimum","Menuites sp. B","Desmoceratoidea sp.","Hauericeras rembda","Phylloptychoceras cf. sipho","Zelandites varuna","P.(Neodesmoceras) snamensis","Diplomoceras cylindraceum","Tetragonites (Tetragonites) sp.","Pseudophyllites sp.","Desmoceratoidea indet.","Pseudophyllites indra","Brahmaites (Brahmaites) brahma","P.(Pachydiscus) sp. A","Baculites sp. A","Indoscaphites cunliffei","Fresvillia paradoxa","P.(Pachydiscus) sp. indet.","Menuites sp. A","Indoscaphites pavana"]}},
    "y":{"datum":66.009,"type":"quantitative","scale":{"domain":[65.481,67.0066],"reverse":true,"nice":false,"zero":false},"axis":null},"text":{"field":"name","type":"nominal"}}},
  {"data":{"name":"species"},
   "mark":{"type":"text","angle":270,"align":"left","baseline":"middle","fontSize":10,"color":"#1a1a1a"},
   "encoding":{"x":{"field":"name","type":"nominal","sort":null,"axis":null,"scale":{"type":"point","range":[12,268],"domain":["Phylloceras (Neophylloceras) sp.","Phyllopachyceras forbesianum","Saghalinites cala","Anagaudryceras cf. politissimum","Menuites sp. B","Desmoceratoidea sp.","Hauericeras rembda","Phylloptychoceras cf. sipho","Zelandites varuna","P.(Neodesmoceras) snamensis","Diplomoceras cylindraceum","Tetragonites (Tetragonites) sp.","Pseudophyllites sp.","Desmoceratoidea indet.","Pseudophyllites indra","Brahmaites (Brahmaites) brahma","P.(Pachydiscus) sp. A","Baculites sp. A","Indoscaphites cunliffei","Fresvillia paradoxa","P.(Pachydiscus) sp. indet.","Menuites sp. A","Indoscaphites pavana"]}},
    "y":{"datum":66.5066,"type":"quantitative","scale":{"domain":[65.481,67.0066],"reverse":true,"nice":false,"zero":false},"axis":null},"text":{"field":"pct","type":"quantitative","format":".2f"}}}
 ]}
]
}
